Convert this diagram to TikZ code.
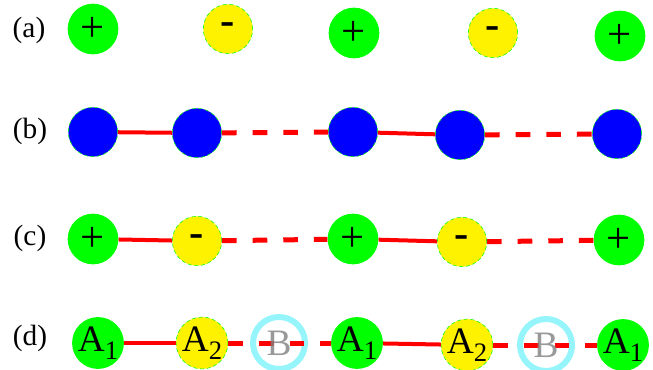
\documentclass[tikz,border=0pt]{standalone}
\usepackage{fontspec}
\setmainfont{Liberation Serif}
\definecolor{vaccyan}{RGB}{150,245,250}
\tikzset{
  cation/.style={circle, fill=green, minimum size=38pt, inner sep=0pt, font=\fontsize{32}{32}\selectfont},
  anion/.style={circle, fill=yellow, draw=green, densely dashed, thin, minimum size=37pt, inner sep=0pt, font=\fontsize{32}{32}\selectfont\bfseries},
  atom/.style={circle, fill=blue, draw=green, densely dashed, thin, minimum size=37pt, inner sep=0pt},
  vac/.style={circle, draw=vaccyan, line width=4.5pt, minimum size=39pt, inner sep=0pt},
  rowlabel/.style={font=\fontsize{22}{22}\selectfont},
  big/.style={font=\fontsize{28}{28}\selectfont},
  bond/.style={red, line width=3pt},
  weak/.style={red, line width=3.75pt, dash pattern=on 11pt off 12pt}
}
\newcommand{\Aone}{A\raisebox{-6pt}{\fontsize{20}{20}\selectfont 1}}
\newcommand{\Atwo}{A\raisebox{-6pt}{\fontsize{20}{20}\selectfont 2}}
\begin{document}
\begin{tikzpicture}[x=0.75pt, y=-0.75pt]
        \useasboundingbox (0,0) rectangle (653,370);
        % (a) charges only
        \node[rowlabel] (la) at (29,30) {(a)};
        \node[cation] (a1) at (93,29) {+};
        \node[anion] (a2) at (228,29) {-};
        \node[cation] (a3) at (354,33) {+};
        \node[anion] (a4) at (493,33) {-};
        \node[cation] (a5) at (620,36) {+};
        % (b) dimerised chain
        \node[rowlabel] (lb) at (30,131) {(b)};
        \node[atom] (b1) at (93,132) {};
        \node[atom] (b2) at (197,133) {};
        \node[atom] (b3) at (353,132) {};
        \node[atom] (b4) at (460,135) {};
        \node[atom] (b5) at (617,134) {};
        \draw[bond] (b1) -- (b2);
        \draw[weak] (b2) -- (b3);
        \draw[bond] (b3) -- (b4);
        \draw[weak] (b4) -- (b5);
        % (c)
        \node[rowlabel] (lc) at (30,238) {(c)};
        \node[cation] (c1) at (93,239) {+};
        \node[anion] (c2) at (197,241) {-};
        \node[cation] (c3) at (353,239) {+};
        \node[anion] (c4) at (462,242) {-};
        \node[cation] (c5) at (619,240) {+};
        \draw[bond] (c1) -- (c2);
        \draw[weak] (c2) -- (c3);
        \draw[bond] (c3) -- (c4);
        \draw[weak] (c4) -- (c5);
        % (d)
        \node[rowlabel] (ld) at (30,338) {(d)};
        \node[vac] (B1) at (279,343) {};
        \node[vac] (B2) at (546,345) {};
        \node[cation, big] (d1) at (98,343) {\Aone};
        \node[anion, big] (d2) at (202,343) {\Atwo};
        \node[cation, big] (d3) at (357,343) {\Aone};
        \node[anion, big] (d4) at (467,345) {\Atwo};
        \node[cation, big] (d5) at (623,345) {\Aone};
        \draw[bond] (d1) -- (d2);
        \draw[weak] (d2) -- (d3);
        \draw[bond] (d3) -- (d4);
        \draw[weak] (d4) -- (d5);
        \node[big, gray, opacity=0.8] at (B1) {B};
        \node[big, gray, opacity=0.8] at (B2) {B};
\end{tikzpicture}
\end{document}
